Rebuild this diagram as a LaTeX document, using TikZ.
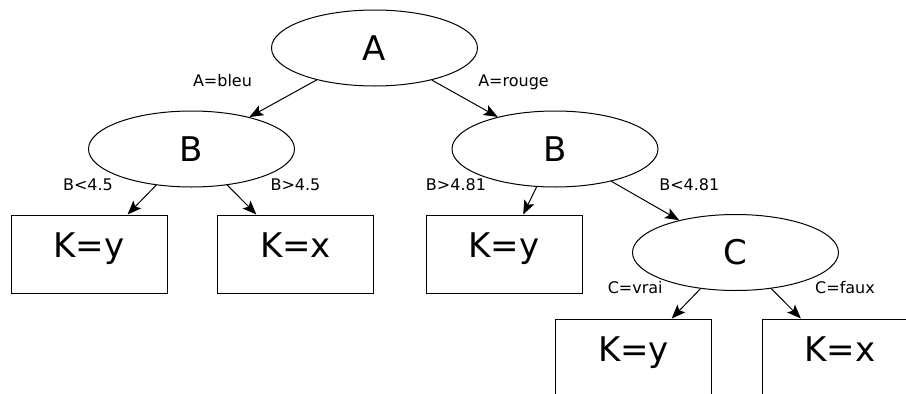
\documentclass[tikz,border=0pt]{standalone}
\usepackage{fontspec}
\setmainfont{DejaVu Sans}
\usetikzlibrary{arrows.meta,shapes.geometric}
\tikzset{
  test/.style={
    ellipse, draw=black, line width=1pt,
    minimum width=206pt, minimum height=76pt,
    inner sep=0pt, font=\fontsize{34}{40}\selectfont
  },
  leaf/.style={
    rectangle, draw=black, line width=1pt,
    minimum width=156pt, minimum height=78pt,
    text height=0.73em, text depth=0.12em,
    inner sep=0pt, font=\fontsize{34}{40}\selectfont
  },
  cond/.style={anchor=base, font=\fontsize{16}{19}\selectfont},
  arrow/.style={-{Stealth[length=14pt, width=11pt, inset=3pt]}, line width=1pt}
}

\begin{document}
\begin{tikzpicture}[x=1pt, y=-1pt]
  \useasboundingbox (0,0) rectangle (906,394);
  \clip (0,0) rectangle (906,394);

  % Decision nodes
  \node[test] (a) at (374.5,48) {A};
  \node[test] (bl) at (191.5,149) {B};
  \node[test] (br) at (555,149) {B};
  \node[test] (c) at (735.5,252.5) {C};

  % Leaves
  \node[leaf] (ky1) at (89,254) {K=y};
  \node[leaf] (kx1) at (295.5,254) {K=x};
  \node[leaf] (ky2) at (504,254) {K=y};
  \node[leaf] (ky3) at (633.5,358) {K=y};
  \node[leaf] (kx2) at (840,358) {K=x};

  % Branches
  \draw[arrow] (a) -- (bl);
  \draw[arrow] (a) -- (br);
  \draw[arrow] (bl) -- (ky1);
  \draw[arrow] (bl) -- (kx1);
  \draw[arrow] (br) -- (ky2);
  \draw[arrow] (br) -- (c);
  \draw[arrow] (c) -- (ky3);
  \draw[arrow] (c) -- (kx2);

  % Branch conditions
  \node[cond] (la) at (222.5,86.5) {A=bleu};
  \node[cond] (lb) at (513.5,86.5) {A=rouge};
  \node[cond] (lc) at (88,190) {B<4.5};
  \node[cond] (ld) at (295.5,190) {B>4.5};
  \node[cond] (le) at (456,190) {B>4.81};
  \node[cond] (lf) at (689.3,190) {B<4.81};
  \node[cond] (lg) at (635.2,293.3) {C=vrai};
  \node[cond] (lh) at (845,293.3) {C=faux};

\end{tikzpicture}
\end{document}
